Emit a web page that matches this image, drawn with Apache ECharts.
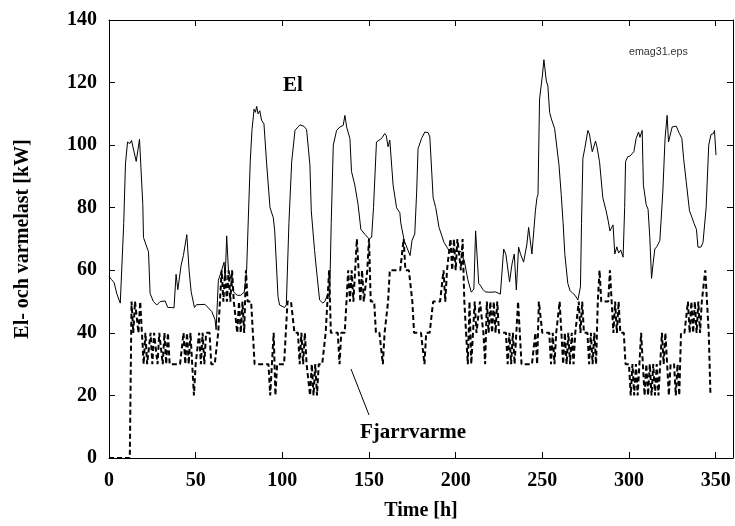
<!DOCTYPE html>
<html>
<head>
<meta charset="utf-8">
<script src="https://cdn.jsdelivr.net/npm/echarts@6/dist/echarts.min.js"></script>
<style>html,body{margin:0;padding:0;background:#fff;}#chart{width:735px;height:526px;}</style>
</head>
<body>
<div id="chart"></div>
<script>
// ---- data ----
const xTicks = [0, 50, 100, 150, 200, 250, 300, 350];
const yTicks = [0, 20, 40, 60, 80, 100, 120, 140];

// El (electric load), time [h]
const elHours = [0,1.5,3,4.5,5.5,6.5,7.4,8.5,9.5,10.7,12,13,14.1,15.7,17.6,19.5,19.9,21.8,22.8,23.7,25.6,27.6,29.5,32.4,33.9,36.2,37.5,38.7,39.7,41.6,42.9,44.9,46.2,47.4,49.3,50.5,55.4,59.3,61.2,61.8,63.1,65,66.4,67,67.9,68.9,70,72,74,76,78,79.4,80.4,81.5,82.5,83.7,84.5,85.2,86,87,88,89.4,91,92.9,94.8,95.6,97.5,98.4,101.3,102.3,103.8,105.4,107.3,108.5,110.2,111.1,112.5,114,115.9,116.7,118.6,120.1,121.5,123.4,124.6,126.3,127.3,128.2,129.4,131.3,133.2,135.1,136.1,137.1,139,139.9,141.8,143.7,145.3,147.6,148.2,150.1,151.5,152.6,154.3,157.2,159.1,160,161,162,163.9,165.9,167.8,168.3,170.3,172.2,173.7,174.8,176.4,177.5,178.3,180.3,182.2,184.1,185.1,186,187,188.5,190.4,193.3,196.2,199,203,205,207,209,210.5,211.5,213.3,214.5,215.5,217.1,219,221,222.9,225.8,227.7,229,231.1,232.5,233.8,235,236.3,237.5,239.2,241.1,242.1,244,245,246,246.9,247.5,248.4,250,250.9,252.3,253.2,254.2,255.2,256,257.1,258,259.6,260.9,262,263,264.7,266,267.6,268.9,270.5,272,272.6,273.4,274.5,276.3,277.2,278.8,280.7,281.5,283,284.9,286.8,288,289,290.8,291.8,293,294,295.2,296.6,297.5,298,299.3,300.5,301.3,302.8,304.1,305.5,306.3,307.6,308.3,309.9,311,312,313,313.9,314.9,316,317.8,318.5,319.5,320.8,322,322.8,323.8,324.9,327.2,328,329.1,330.5,331.5,333,334.9,336.4,337.5,338.9,339.8,341.5,342.7,343.5,344.5,346,347.3,348.7,349.3,350.2];
const elLoad = [58,57,56,52.5,52,49.5,49,75,94,101,100.5,101.5,101.5,94.8,101.9,81,70.5,67.4,65.9,52.6,50,48.9,50,50.2,48.1,48.1,48,58.7,53.8,61.6,64.7,71.4,60,53.1,48.1,49,49.1,46.8,44.2,41,56.8,60,62.6,57,71,60,58,53,52,52,53,60,77,95,105,111.5,110.5,112.4,110,111,108,106.8,93.7,80,76.8,72.6,51.6,48.9,48.1,49,75,94.7,104.7,105.5,106.5,106.9,106,105,93.7,79,66.3,57.9,50.5,49.5,50.1,52.6,51.5,75,100,104.7,105.8,106.3,109.5,105.8,102.1,91.6,87.3,81,73.1,71.5,72.1,70,70.5,80,101,102.1,103.7,103,99.5,101.6,87.3,80,78.4,75.2,69.5,66.8,64.7,69.5,71.6,85,98.9,102.1,104.2,104,102.6,103,83.2,80,73.7,68.9,66.3,66,66,63,57,53,54,72.6,55.8,55,54,53.1,53,53,53.1,52.4,66.8,65,56.3,62,65.2,53.7,67.4,65,62.6,68.4,73.7,65.2,65.5,79,83.2,84.2,114.7,122.1,127.3,120.5,118.9,110.5,108.4,108,105.3,105,93.7,84.2,75,65,55.8,53.5,52.6,52,50.5,54.7,75,95.8,99,104.7,103.5,97.9,101.3,99.5,94.7,83.2,79,75.8,72.6,74.5,65.2,67.5,65.5,66.5,64.2,80,94.7,96.3,96.5,96.8,97.9,102.1,104.2,102.5,104.7,87.3,81,79.5,70.5,57.4,62.1,66.8,67.5,69.5,70,85,102.1,109.5,101,100.5,105.8,106.1,105.8,103.7,102.1,95.8,88.4,79,76.8,75,73.1,67.4,67.4,68.9,68.5,80,100,103.4,103.7,104.7,96.8];

// Fjarrvarme (district heating load), one value per hour from hour 0
const fjvLoad = [
0,0,0,0,0,0,0,0,0,0,
0,0,0,50,40,50,50,40,50,40,
30,40,30,30,40,30,40,40,30,40,
40,30,40,30,40,30,30,30,30,30,
30,30,30,40,30,40,30,40,30,20,
30,30,40,30,40,30,40,40,40,30,
30,30,30,40,50,60,50,60,50,60,
50,60,50,50,40,50,40,50,40,60,
50,50,50,40,30,30,30,30,30,30,
30,30,30,20,30,40,20,30,30,30,
30,30,30,50,50,50,50,40,40,40,
30,40,30,40,30,30,20,30,20,30,
20,30,30,30,30,40,50,60,40,40,
40,40,40,30,40,40,40,50,60,50,
60,50,60,70,60,50,60,50,50,60,
70,50,50,50,40,40,40,40,30,40,
40,50,60,60,60,60,60,60,60,60,
70,60,60,60,60,50,40,40,40,40,
40,40,30,40,40,40,40,50,50,50,
50,50,50,60,50,60,60,70,60,70,
60,70,70,60,70,50,40,30,50,30,
40,50,40,40,50,50,40,30,50,40,
50,40,50,40,50,40,40,40,40,40,
30,40,30,40,30,40,50,40,30,30,
30,30,30,30,30,30,40,30,50,50,
40,40,40,40,40,30,40,30,40,40,
50,40,30,40,30,40,30,40,30,40,
40,50,40,50,40,40,40,30,40,30,
40,30,50,60,50,50,50,50,50,60,
50,40,50,40,50,40,40,40,30,30,
30,20,30,20,30,20,30,40,30,20,
30,20,30,20,30,20,30,20,30,40,
30,40,30,20,30,30,30,20,30,20,
40,40,40,40,50,40,50,40,50,40,
50,40,50,50,60,50,40,20];

const seriesNames = ['El', 'Fjarrvarme'];
const xTitle = 'Time [h]';
const yTitle = 'El- och varmelast [kW]';
const fileTag = 'emag31.eps';

// ---- chart ----
const chart = echarts.init(document.getElementById('chart'), null, {renderer: 'canvas'});
const serif = 'Liberation Serif, Times New Roman, serif';
const axisCommon = {
  type: 'value',
  axisLine: {show: true, onZero: false, lineStyle: {color: '#000', width: 1}},
  axisTick: {show: true, inside: true, length: 6, lineStyle: {color: '#000', width: 1}},
  splitLine: {show: false}
};
const option = {
  animation: false,
  backgroundColor: '#fff',
  grid: {left: 109, right: 2, top: 20, bottom: 63, containLabel: false},
  xAxis: [
    Object.assign({}, axisCommon, {
      min: 0, max: 360, interval: 50, position: 'bottom',
      name: xTitle, nameLocation: 'middle', nameGap: 43,
      nameTextStyle: {fontFamily: serif, fontWeight: 'bold', fontSize: 20, color: '#000'},
      axisLabel: {show: true, margin: 13, showMaxLabel: false, fontFamily: serif, fontWeight: 'bold', fontSize: 20, color: '#000',
        formatter: v => (xTicks.indexOf(v) >= 0 ? String(v) : '')}
    }),
    Object.assign({}, axisCommon, {
      min: 0, max: 360, interval: 50, position: 'top', axisLabel: {show: false}
    })
  ],
  yAxis: [
    Object.assign({}, axisCommon, {
      min: 0, max: 140, interval: 20, position: 'left',
      name: yTitle, nameLocation: 'middle', nameGap: 76, nameRotate: 90,
      nameTextStyle: {fontFamily: serif, fontWeight: 'bold', fontSize: 20, color: '#000'},
      axisLabel: {show: true, margin: 12, fontFamily: serif, fontWeight: 'bold', fontSize: 20, color: '#000',
        formatter: v => (yTicks.indexOf(v) >= 0 ? String(v) : '')}
    }),
    Object.assign({}, axisCommon, {
      min: 0, max: 140, interval: 20, position: 'right', axisLabel: {show: false}
    })
  ],
  series: [
    {
      name: seriesNames[0], type: 'line', xAxisIndex: 0, yAxisIndex: 0,
      showSymbol: false, symbol: 'none',
      lineStyle: {color: '#000', width: 1},
      data: elHours.map((h, i) => [h, elLoad[i]]),
      z: 2
    },
    {
      name: seriesNames[1], type: 'line', xAxisIndex: 0, yAxisIndex: 0,
      showSymbol: false, symbol: 'none',
      lineStyle: {color: '#000', width: 2, type: [5, 3]},
      data: fjvLoad.map((v, h) => [h, v]),
      z: 3
    }
  ],
  graphic: [
    {type: 'text', left: 283, top: 75, style: {text: seriesNames[0], font: 'bold 21px ' + serif, fill: '#000'}},
    {type: 'text', left: 360, top: 422, style: {text: seriesNames[1], font: 'bold 21px ' + serif, fill: '#000'}},
    {type: 'line', shape: {x1: 351, y1: 369, x2: 369, y2: 415}, style: {stroke: '#000', lineWidth: 1}},
    {type: 'text', left: 629, top: 47, style: {text: fileTag, font: '10.7px Liberation Sans, Arial, sans-serif', fill: '#333'}}
  ]
};
chart.setOption(option);
</script>
</body>
</html>
